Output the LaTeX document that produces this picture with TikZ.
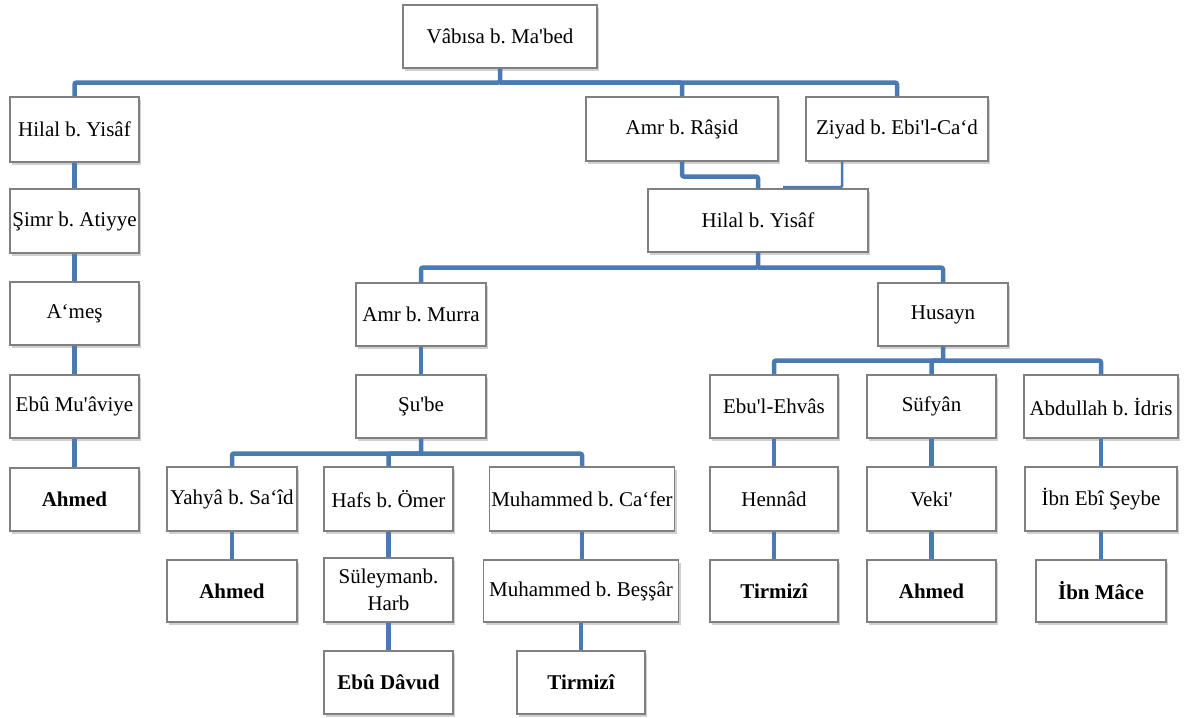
\documentclass[tikz,border=0pt]{standalone}
\usepackage{fontspec}
\setmainfont{Liberation Serif}[Ligatures=TeXOff]
\usetikzlibrary{shadows}
\frenchspacing
\definecolor{conncol}{RGB}{74,122,178}
\definecolor{boxline}{RGB}{128,128,128}
\tikzset{
  box/.style={draw=boxline, line width=1.1pt, fill=white, inner sep=2pt, align=center,
    font=\fontsize{21}{25}\selectfont,
    drop shadow={shadow xshift=2pt, shadow yshift=-3pt, opacity=0.3, fill=black!60}},
  bx/.style={box, font=\fontsize{21}{25}\selectfont\bfseries},
  conn/.style={draw=conncol, line width=4.5pt, rounded corners=2pt},
  thinconn/.style={draw=conncol, line width=2.5pt, rounded corners=1pt}
}
\begin{document}
\begin{tikzpicture}[x=1pt,y=-1pt]
\useasboundingbox[fill=white] (0,0) rectangle (1195,718);
% nodes
\node[box, minimum width=194, minimum height=63] (top) at (500,36.5) {Vâbısa b. Ma'bed};
\node[box, minimum width=129, minimum height=65] (hilalL) at (74.5,129.5) {Hilal b. Yisâf};
\node[box, minimum width=129, minimum height=64] (simr) at (74.5,221) {Şimr b. Atiyye};
\node[box, minimum width=129, minimum height=63] (ames) at (74.5,313.5) {A‘meş};
\node[box, minimum width=129, minimum height=63] (ebum) at (74.5,406.5) {Ebû Mu'âviye};
\node[bx, minimum width=129, minimum height=63] (ahmedL) at (74.5,499.5) {Ahmed};
\node[box, minimum width=192, minimum height=64] (amrR) at (682,129) {Amr b. Râşid};
\node[box, minimum width=182, minimum height=64] (ziyad) at (897,129) {Ziyad b. Ebi'l-Ca‘d};
\node[box, minimum width=220, minimum height=63] (hilalR) at (758,220.5) {Hilal b. Yisâf};
\node[box, minimum width=130, minimum height=63] (amrM) at (421,314.5) {Amr b. Murra};
\node[box, minimum width=130, minimum height=63] (husayn) at (943,314.5) {Husayn};
\node[box, minimum width=130, minimum height=63] (sube) at (421,406.5) {Şu'be};
\node[box, minimum width=128, minimum height=63] (ebul) at (774,406.5) {Ebu'l-Ehvâs};
\node[box, minimum width=129, minimum height=63] (sufyan) at (931.5,406.5) {Süfyân};
\node[box, minimum width=154, minimum height=63] (abdullah) at (1101,406.5) {Abdullah b. İdris};
\node[box, minimum width=130, minimum height=64] (yahya) at (232,499) {Yahyâ b. Sa‘îd};
\node[box, minimum width=129, minimum height=64] (hafs) at (388.5,499) {Hafs b. Ömer};
\node[box, minimum width=185, minimum height=64] (mcafer) at (582,499) {Muhammed b. Ca‘fer};
\node[box, minimum width=128, minimum height=64] (hennad) at (774,499) {Hennâd};
\node[box, minimum width=129, minimum height=64] (veki) at (931.5,499) {Veki'};
\node[box, minimum width=152, minimum height=64] (ibnebi) at (1101,499) {İbn Ebî Şeybe};
\node[bx, minimum width=130, minimum height=62] (ahmedM) at (232,591) {Ahmed};
\node[box, minimum width=129, minimum height=64, text width=120pt, font=\fontsize{21}{27}\selectfont] (suleyman) at (388.5,590) {Süleymanb.\\Harb};
\node[box, minimum width=195, minimum height=62] (mbessar) at (581,591) {Muhammed b. Beşşâr};
\node[bx, minimum width=128, minimum height=62] (tirmiziR) at (774,591) {Tirmizî};
\node[bx, minimum width=129, minimum height=62] (ahmedR) at (931.5,591) {Ahmed};
\node[bx, minimum width=130, minimum height=62] (ibnmace) at (1101,591) {İbn Mâce};
\node[bx, minimum width=129, minimum height=63] (ebudavud) at (388.5,682.5) {Ebû Dâvud};
\node[bx, minimum width=128, minimum height=63] (tirmiziM) at (581,682.5) {Tirmizî};
\coordinate (zend) at (783,187);
% connectors
\draw[conn] (top.south) -- ++(0,14) -| (hilalL.north);
\draw[conn] (top.south) ++(0,14) -| (amrR.north);
\draw[conn] (top.south) ++(0,14) -| (ziyad.north);
\draw[conn] (hilalL) -- (simr);
\draw[conn] (simr) -- (ames);
\draw[conn] (ames) -- (ebum);
\draw[conn] (ebum) -- (ahmedL);
\draw[conn] (amrR.south) -- ++(0,15) -| (hilalR.north);
\draw[thinconn] ([xshift=-55pt]ziyad.south) |- (zend);
\draw[conn] (hilalR.south) -- ++(0,15) -| (amrM.north);
\draw[conn] (hilalR.south) ++(0,15) -| (husayn.north);
\draw[conn] (amrM) -- (sube);
\draw[conn] (sube.south) -- ++(0,15) -| (yahya.north);
\draw[conn] (sube.south) ++(0,15) -| (hafs.north);
\draw[conn] (sube.south) ++(0,15) -| (mcafer.north);
\draw[conn] (yahya) -- (ahmedM);
\draw[conn] (hafs) -- (suleyman);
\draw[conn] (suleyman) -- (ebudavud);
\draw[conn] (mcafer.south) -- (mcafer.south |- mbessar.north);
\draw[conn] (mbessar) -- (tirmiziM);
\draw[conn] (husayn.south) -- ++(0,14) -| (ebul.north);
\draw[conn] (husayn.south) ++(0,14) -| (sufyan.north);
\draw[conn] (husayn.south) ++(0,14) -| (abdullah.north);
\draw[conn] (ebul) -- (hennad);
\draw[conn] (hennad) -- (tirmiziR);
\draw[conn] (sufyan) -- (veki);
\draw[conn] (veki) -- (ahmedR);
\draw[conn] (abdullah) -- (ibnebi);
\draw[conn] (ibnebi) -- (ibnmace);
\end{tikzpicture}
\end{document}
